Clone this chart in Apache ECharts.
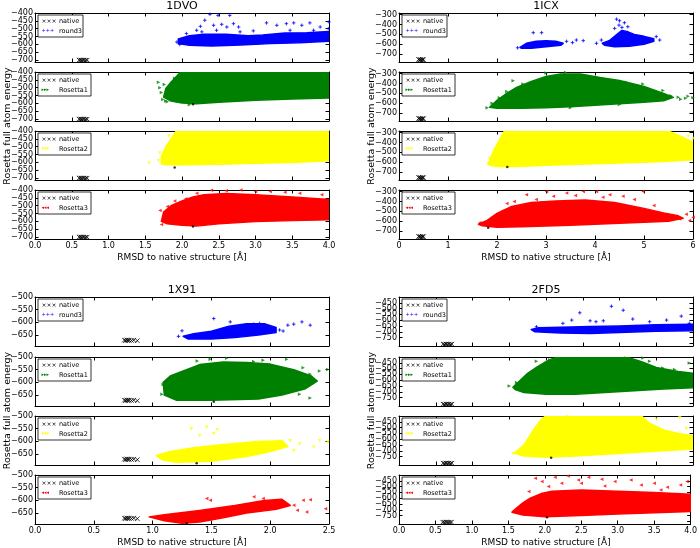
<!DOCTYPE html>
<html><head><meta charset="utf-8">
<script src="https://cdn.jsdelivr.net/npm/echarts@6/dist/echarts.min.js"></script>
<style>html,body{margin:0;padding:0;background:#fff}#c{width:700px;height:548px}</style>
</head><body><div id="c"></div>
<script>
// ---------- tick labels ----------
const dvoYTicks = [-700,-650,-600,-550,-500,-450,-400];
const icxYTicks = [-700,-600,-500,-400,-300];
const x91YTicks = [-650,-600,-550,-500];
const fd5YTicks = [-800,-750,-700,-650,-600,-550,-500,-450,-400];
const seriesNames = ['round3','Rosetta1','Rosetta2','Rosetta3'];
const proteinNames = ['1DVO','1ICX','1X91','2FD5'];

// ---------- 1DVO ----------
const dvoNative = [[0.6,-700],[0.62,-699],[0.63,-701],[0.65,-700],[0.67,-700],[0.69,-701],[0.71,-700]];
const dvoRound3Core = [[1.95,-565],[2.1,-545],[2.3,-535],[2.6,-535],[2.9,-545],[3.1,-540],[3.4,-528],[3.7,-525],[4.0,-518],[4.0,-580],[3.6,-590],[3.2,-595],[2.8,-603],[2.4,-610],[2.1,-605],[1.95,-595]];
const dvoRound3Pts = [[2.25,-485],[2.31,-446],[2.38,-408],[2.49,-415],[2.65,-415],[2.27,-520],[2.43,-478],[2.54,-472],[2.61,-489],[2.7,-468],[2.77,-489],[2.79,-520],[2.47,-510],[2.97,-514],[3.15,-463],[3.29,-478],[3.42,-468],[3.52,-463],[3.63,-478],[3.74,-463],[3.88,-489],[4.0,-457],[3.99,-499],[3.79,-510],[3.47,-510],[2.06,-531],[2.2,-510],[1.93,-585],[1.97,-600]];
const dvoRos1Core = [[1.75,-560],[1.78,-505],[1.85,-465],[1.93,-425],[1.98,-400],[4.0,-400],[4.0,-565],[3.5,-572],[3.0,-580],[2.5,-592],[2.2,-602],[2.0,-597],[1.85,-585]];
const dvoRos1Pts = [[1.68,-465],[1.72,-530],[1.74,-575],[1.8,-590],[1.9,-440],[2.1,-608],[1.7,-500],[1.76,-480],[1.78,-585]];
const dvoRos1Best = [[2.15,-605]];
const dvoRos2Core = [[1.72,-610],[1.72,-560],[1.78,-500],[1.85,-450],[1.92,-400],[4.0,-400],[4.0,-590],[3.5,-600],[3.0,-605],[2.5,-612],[2.0,-615],[1.8,-615]];
const dvoRos2Pts = [[1.55,-605],[1.68,-590],[1.7,-540],[1.82,-430]];
const dvoRos2Best = [[1.9,-632]];
const dvoRos3Core = [[1.72,-600],[1.75,-540],[1.85,-500],[2.0,-470],[2.15,-445],[2.3,-430],[2.6,-422],[3.0,-430],[3.5,-445],[4.0,-460],[4.0,-590],[3.5,-595],[3.0,-600],[2.5,-615],[2.2,-630],[2.0,-625],[1.8,-615]];
const dvoRos3Pts = [[2.4,-402],[2.6,-405],[2.8,-400],[3.2,-410],[3.6,-420],[3.9,-430],[2.2,-420],[1.9,-470],[1.7,-530],[1.72,-620],[3.0,-410],[3.4,-415],[1.75,-590],[1.8,-505],[2.05,-455]];
const dvoRos3Best = [[2.15,-632]];

// ---------- 1ICX ----------
const icxNative = [[0.4,-752],[0.42,-756],[0.44,-754],[0.46,-757],[0.48,-753],[0.5,-755]];
const icxRound3CoreA = [[2.47,-630],[2.6,-590],[2.8,-570],[3.0,-565],[3.2,-570],[3.35,-590],[3.3,-610],[3.0,-625],[2.7,-640],[2.5,-640]];
const icxRound3CoreB = [[4.15,-590],[4.3,-560],[4.45,-500],[4.55,-460],[4.65,-470],[4.8,-500],[5.0,-520],[5.2,-545],[5.2,-570],[5.0,-600],[4.7,-620],[4.4,-625],[4.2,-610]];
const icxRound3Pts = [[2.74,-483],[2.91,-483],[3.42,-570],[3.62,-557],[3.76,-563],[3.54,-583],[4.03,-590],[4.13,-557],[5.32,-557],[5.25,-523],[4.44,-347],[4.5,-363],[4.49,-407],[4.6,-383],[4.67,-423],[4.4,-440],[4.55,-430],[2.42,-635]];
const icxRos1Core = [[1.85,-640],[2.0,-570],[2.2,-500],[2.4,-440],[2.7,-380],[3.0,-330],[3.3,-305],[3.7,-305],[4.1,-340],[4.5,-370],[5.0,-430],[5.4,-500],[5.6,-540],[5.4,-575],[5.0,-590],[4.5,-605],[4.0,-620],[3.5,-635],[3.0,-645],[2.5,-650],[2.0,-650]];
const icxRos1Pts = [[5.7,-540],[5.85,-550],[6.0,-545],[5.75,-560],[3.0,-295],[3.4,-290],[2.33,-372],[2.53,-405],[4.64,-389],[4.98,-405],[5.39,-470],[1.8,-645],[5.55,-525],[5.9,-530],[1.9,-600],[2.05,-545],[2.2,-480],[3.5,-645],[4.5,-612]];
const icxRos2Core = [[1.82,-620],[1.9,-520],[2.0,-420],[2.1,-330],[2.15,-285],[5.5,-285],[5.8,-350],[6.0,-400],[6.0,-575],[5.5,-590],[5.0,-600],[4.0,-615],[3.0,-630],[2.5,-640],[2.1,-645],[1.9,-635]];
const icxRos2Pts = [[1.82,-617],[1.85,-560],[1.95,-470],[5.9,-340],[6.0,-360]];
const icxRos2Best = [[2.21,-647]];
const icxRos3Core = [[1.62,-630],[1.8,-590],[2.0,-520],[2.3,-450],[2.7,-410],[3.2,-395],[3.8,-385],[4.4,-410],[5.0,-470],[5.4,-515],[5.7,-545],[5.8,-570],[5.5,-600],[5.0,-610],[4.5,-620],[4.0,-630],[3.5,-640],[3.0,-648],[2.5,-655],[2.0,-660],[1.7,-645]];
const icxRos3Pts = [[2.6,-333],[3.01,-300],[3.42,-316],[3.76,-300],[4.03,-300],[4.3,-333],[4.57,-349],[4.98,-300],[3.15,-349],[2.8,-381],[4.16,-359],[5.86,-528],[6.0,-560],[5.73,-576],[5.93,-593],[2.35,-400],[3.6,-340],[4.8,-380],[5.2,-440],[2.2,-420],[1.65,-615],[1.9,-560],[2.1,-500]];
const icxRos3Best = [[1.82,-664]];

// ---------- 1X91 ----------
const x91Native = [[0.76,-670],[0.77,-672],[0.78,-669],[0.79,-671],[0.8,-670],[0.82,-671],[0.84,-670],[0.87,-672]];
const x91Round3Core = [[1.26,-655],[1.35,-645],[1.5,-635],[1.65,-615],[1.8,-605],[1.95,-605],[2.05,-620],[2.05,-640],[1.9,-650],[1.7,-660],[1.5,-665],[1.3,-665]];
const x91Round3Pts = [[1.25,-633],[1.52,-585],[1.66,-598],[1.91,-604],[2.0,-624],[2.08,-630],[2.15,-611],[2.2,-607],[2.27,-598],[2.34,-611],[2.11,-634],[1.86,-607],[1.22,-655]];
const x91Ros1Core = [[1.09,-600],[1.15,-575],[1.26,-555],[1.4,-530],[1.6,-520],[1.8,-522],[2.0,-528],[2.2,-550],[2.35,-575],[2.4,-595],[2.3,-625],[2.1,-650],[1.9,-665],[1.5,-670],[1.2,-670],[1.1,-650]];
const x91Ros1Pts = [[1.38,-516],[1.49,-509],[1.63,-505],[1.86,-518],[1.94,-513],[2.14,-509],[2.28,-542],[2.42,-555],[2.49,-549],[2.34,-568],[2.25,-647],[2.34,-661],[1.09,-608],[1.08,-647]];
const x91Ros1Best = [[1.52,-676]];
const x91Ros2Core = [[1.03,-655],[1.15,-640],[1.35,-625],[1.6,-612],[1.9,-600],[2.1,-597],[2.15,-620],[2.0,-640],[1.8,-660],[1.5,-678],[1.2,-682],[1.08,-672]];
const x91Ros2Pts = [[1.33,-550],[1.46,-544],[1.55,-554],[1.52,-570],[1.4,-577],[2.17,-597],[2.25,-610],[2.37,-623],[2.42,-597],[2.49,-603],[2.2,-637]];
const x91Ros2Best = [[1.375,-686]];
const x91Ros3Core = [[0.97,-665],[1.1,-657],[1.4,-640],[1.7,-620],[1.95,-600],[2.1,-596],[2.17,-620],[2.05,-635],[1.8,-650],[1.6,-668],[1.4,-685],[1.25,-690],[1.1,-680]];
const x91Ros3Pts = [[1.46,-593],[1.49,-599],[1.86,-586],[1.94,-593],[2.2,-619],[2.28,-599],[2.34,-597],[2.31,-646],[2.47,-633],[2.23,-639]];
const x91Ros3Best = [[1.29,-690]];

// ---------- 2FD5 ----------
const fd5Native = [[0.6,-806],[0.62,-808],[0.64,-805],[0.66,-807],[0.68,-806],[0.7,-808],[0.72,-806]];
const fd5Round3Core = [[1.8,-680],[1.9,-665],[2.2,-660],[2.6,-655],[3.0,-650],[3.5,-640],[4.0,-635],[4.0,-690],[3.5,-695],[3.0,-705],[2.6,-715],[2.2,-710],[1.85,-700]];
const fd5Round3Pts = [[2.89,-480],[3.05,-514],[2.46,-536],[2.35,-599],[2.68,-613],[2.78,-605],[3.18,-590],[3.64,-599],[3.84,-565],[2.6,-605],[1.87,-656],[2.23,-627],[3.41,-613],[3.95,-627]];
const fd5Ros1Core = [[1.55,-660],[1.65,-600],[1.75,-540],[1.87,-490],[2.0,-440],[2.1,-410],[2.2,-400],[3.1,-400],[3.3,-440],[3.5,-490],[3.8,-525],[4.0,-540],[4.0,-665],[3.6,-675],[3.2,-690],[2.8,-705],[2.4,-720],[2.0,-720],[1.7,-705],[1.58,-680]];
const fd5Ros1Pts = [[1.87,-437],[2.05,-423],[1.94,-480],[3.32,-409],[3.41,-437],[3.59,-494],[3.75,-508],[3.95,-451],[3.09,-409],[1.5,-650],[1.6,-620]];
const fd5Ros2Core = [[1.57,-720],[1.7,-650],[1.75,-600],[1.85,-500],[1.95,-420],[2.0,-400],[3.3,-400],[3.4,-460],[3.6,-520],[3.8,-550],[4.0,-570],[4.0,-685],[3.6,-700],[3.2,-715],[2.8,-730],[2.4,-745],[2.0,-755],[1.7,-745]];
const fd5Ros2Pts = [[3.5,-428],[3.82,-414],[3.91,-510],[2.28,-408],[1.55,-725]];
const fd5Ros2Best = [[2.07,-759]];
const fd5Ros3Core = [[1.55,-720],[1.62,-680],[1.7,-640],[1.8,-600],[1.95,-560],[2.1,-540],[2.5,-530],[3.0,-540],[3.5,-550],[4.0,-565],[4.0,-715],[3.5,-725],[3.0,-735],[2.5,-748],[2.0,-760],[1.7,-745]];
const fd5Ros3Pts = [[1.87,-429],[1.96,-457],[2.14,-420],[2.32,-409],[2.46,-443],[2.6,-420],[2.78,-437],[2.96,-457],[3.18,-443],[3.32,-486],[3.5,-471],[3.68,-506],[3.86,-486],[3.95,-457],[2.23,-471],[2.05,-500],[1.78,-543],[2.5,-471],[2.82,-494],[3.59,-529]];
const fd5Ros3Best = [[2.03,-763]];

// ---------- build ----------
const FONT = 'DejaVu Sans';
const COLORS = {round3:'#0000ff', Rosetta1:'#008000', Rosetta2:'#ffff00', Rosetta3:'#ff0000'};
const LEGMARK = {round3:'+++', Rosetta1:'\u25B8\u25B8\u25B8', Rosetta2:'\u25BE\u25BE\u25BE', Rosetta3:'\u25C2\u25C2\u25C2'};
const PLUS = 'path://M5,0L5,10M0,5L10,5';
const CROSS = 'path://M0,0L10,10M10,0L0,10';
const TOPS_UP = [13,72,131,190], TOPS_DN = [297,357,416,475];

const panels = [
  {title:proteinNames[0], left:35, tops:TOPS_UP, xMax:4, xInt:0.5, xDec:1, yMin:-712, yMax:-400, yTicks:dvoYTicks, native:dvoNative,
   cores:[[dvoRound3Core],[dvoRos1Core],[dvoRos2Core],[dvoRos3Core]], pts:[dvoRound3Pts,dvoRos1Pts,dvoRos2Pts,dvoRos3Pts], best:[[],dvoRos1Best,dvoRos2Best,dvoRos3Best]},
  {title:proteinNames[1], left:399, tops:TOPS_UP, xMax:6, xInt:1, xDec:0, yMin:-778, yMax:-285, yTicks:icxYTicks, native:icxNative,
   cores:[[icxRound3CoreA,icxRound3CoreB],[icxRos1Core],[icxRos2Core],[icxRos3Core]], pts:[icxRound3Pts,icxRos1Pts,icxRos2Pts,icxRos3Pts], best:[[],[],icxRos2Best,icxRos3Best]},
  {title:proteinNames[2], left:35, tops:TOPS_DN, xMax:2.5, xInt:0.5, xDec:1, yMin:-693, yMax:-500, yTicks:x91YTicks, native:x91Native,
   cores:[[x91Round3Core],[x91Ros1Core],[x91Ros2Core],[x91Ros3Core]], pts:[x91Round3Pts,x91Ros1Pts,x91Ros2Pts,x91Ros3Pts], best:[[],x91Ros1Best,x91Ros2Best,x91Ros3Best]},
  {title:proteinNames[3], left:399, tops:TOPS_DN, xMax:4, xInt:0.5, xDec:1, yMin:-822, yMax:-400, yTicks:fd5YTicks, native:fd5Native,
   cores:[[fd5Round3Core],[fd5Ros1Core],[fd5Ros2Core],[fd5Ros3Core]], pts:[fd5Round3Pts,fd5Ros1Pts,fd5Ros2Pts,fd5Ros3Pts], best:[[],[],fd5Ros2Best,fd5Ros3Best]}
];

const W = 294, H = 49;
const grids=[], xAxes=[], yAxes=[], series=[], graphics=[];
const minus = v => (v < 0 ? '\u2212' + Math.abs(v) : String(v));
const lineSt = {color:'#000', width:1};

panels.forEach((p) => {
  const cx = p.left + W/2;
  graphics.push({type:'text', x:cx, y:p.tops[0]-7, z:100, style:{text:p.title, font:'11px "DejaVu Sans"', fill:'#000', align:'center', verticalAlign:'middle'}});
  const bottom = p.tops[3] + H;
  graphics.push({type:'text', x:cx, y:bottom+18.5, z:100, style:{text:'RMSD to native structure [\u00C5]', font:'9px "DejaVu Sans"', fill:'#000', align:'center', verticalAlign:'middle'}});
  graphics.push({type:'text', x:p.left-27, y:(p.tops[0]+bottom)/2, rotation:Math.PI/2, z:100, style:{text:'Rosetta full atom energy', font:'9.5px "DejaVu Sans"', fill:'#000', align:'center', verticalAlign:'middle'}});

  seriesNames.forEach((name, k) => {
    const gi = grids.length;
    const top = p.tops[k];
    const color = COLORS[name];
    grids.push({left:p.left, top:top, width:W, height:H});
    const xBase = {type:'value', gridIndex:gi, min:0, max:p.xMax, interval:p.xInt, splitLine:{show:false},
      axisLine:{show:true, onZero:false, lineStyle:lineSt}, axisTick:{show:true, inside:true, length:3.5, lineStyle:lineSt}};
    xAxes.push(Object.assign({}, xBase, {position:'bottom',
      axisLabel:{show:k===3, margin:3, fontSize:8, fontFamily:FONT, color:'#000', formatter:v => v.toFixed(p.xDec)}}));
    xAxes.push(Object.assign({}, xBase, {position:'top', axisLabel:{show:false}}));
    const yBase = {type:'value', gridIndex:gi, min:p.yMin, max:p.yMax, splitLine:{show:false},
      axisLine:{show:true, onZero:false, lineStyle:lineSt}};
    yAxes.push(Object.assign({}, yBase, {position:'left',
      axisTick:{show:true, inside:true, length:3.5, lineStyle:lineSt, customValues:p.yTicks},
      axisLabel:{show:true, customValues:p.yTicks, margin:2, fontSize:8, fontFamily:FONT, color:'#000', formatter:minus}}));
    yAxes.push(Object.assign({}, yBase, {position:'right',
      axisTick:{show:true, inside:true, length:3.5, lineStyle:lineSt, customValues:p.yTicks},
      axisLabel:{show:false, customValues:p.yTicks}}));
    const xi = 2*gi, yi = 2*gi;

    p.cores[k].forEach(core => {
      series.push({type:'custom', xAxisIndex:xi, yAxisIndex:yi, clip:true, silent:true, z:2,
        data:core, encode:{x:0, y:1},
        renderItem:(params, api) => params.dataIndex !== 0 ? null : {
          type:'polygon', shape:{points:core.map(pt => api.coord(pt))},
          style:{fill:color, stroke:color, lineWidth:1.5, lineJoin:'round'}}});
    });
    const sym = name === 'round3' ? {symbol:PLUS, symbolRotate:0, itemStyle:{color:'none', borderColor:color, borderWidth:1}}
      : {symbol:'triangle', symbolRotate: name==='Rosetta1' ? -90 : (name==='Rosetta2' ? 180 : 90), itemStyle:{color:color}};
    series.push(Object.assign({type:'scatter', xAxisIndex:xi, yAxisIndex:yi, clip:true, silent:true, z:3,
      symbolSize:3.5, data:p.pts[k]}, sym));
    series.push({type:'scatter', xAxisIndex:xi, yAxisIndex:yi, clip:true, silent:true, z:4,
      symbol:CROSS, symbolSize:4.5, itemStyle:{color:'none', borderColor:'#000', borderWidth:1}, data:p.native});
    if (p.best[k].length) {
      series.push({type:'scatter', xAxisIndex:xi, yAxisIndex:yi, clip:true, silent:true, z:5,
        symbol:'circle', symbolSize:2.5, itemStyle:{color:'#000'}, data:p.best[k]});
    }
    // legend box
    const bw = name === 'round3' ? 45 : 53;
    graphics.push({type:'rect', x:p.left+3, y:top+2, z:100, shape:{width:bw, height:22},
      style:{fill:'#fff', stroke:'#000', lineWidth:0.8}});
    graphics.push({type:'text', x:p.left+6.5, y:top+8.7, z:101, style:{text:'\u00D7\u00D7\u00D7', font:'6px "DejaVu Sans"', fill:'#000', verticalAlign:'middle'}});
    graphics.push({type:'text', x:p.left+24, y:top+8.7, z:101, style:{text:'native', font:'6.5px "DejaVu Sans"', fill:'#000', verticalAlign:'middle'}});
    graphics.push({type:'text', x:p.left+6.5, y:top+18, z:101, style:{text:LEGMARK[name], font:'5px "DejaVu Sans"', fill:color, verticalAlign:'middle'}});
    graphics.push({type:'text', x:p.left+24, y:top+18, z:101, style:{text:name, font:'6.5px "DejaVu Sans"', fill:'#000', verticalAlign:'middle'}});
  });
});

const chart = echarts.init(document.getElementById('c'), null, {renderer:'canvas'});
chart.setOption({
  animation:false,
  backgroundColor:'#fff',
  textStyle:{fontFamily:FONT},
  grid:grids, xAxis:xAxes, yAxis:yAxes, series:series,
  graphic:{elements:graphics}
});
</script>
</body></html>
